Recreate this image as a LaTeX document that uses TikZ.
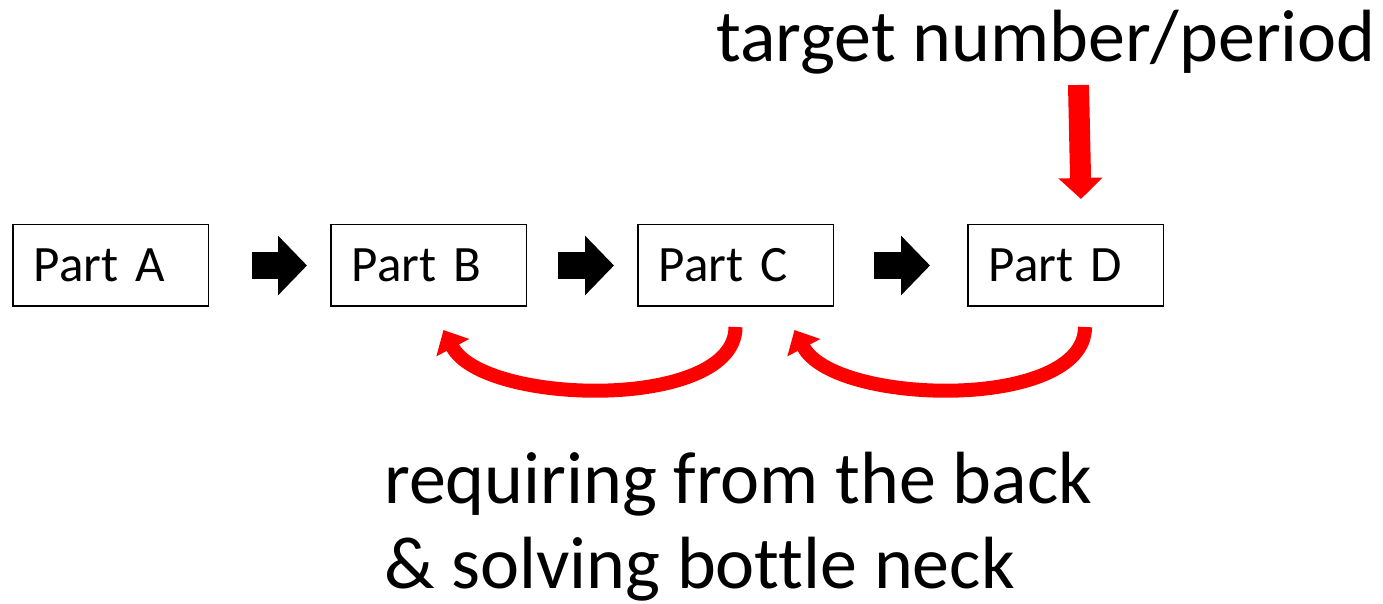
\documentclass[tikz,border=0pt]{standalone}
\usepackage{fontspec}
\setmainfont{Carlito}[Ligatures=NoCommon]
\usetikzlibrary{positioning,arrows.meta}
\tikzset{
    part/.style = {
       shape=rectangle,
       draw, line width = 1.5pt,
       align=left,
       text width = 153.5pt,
       inner xsep = 21pt,
       minimum height = 81.5pt,
       font = \fontsize{51}{60}\selectfont
    },
    flow/.style = {
       line width = 27pt,
       -{Triangle[width=58pt,length=29pt]}
    },
    pull/.style = {
       red, line width = 14pt,
       -{Triangle[width=36pt,length=20pt]}
    },
    demand/.style = {
       red, line width = 21pt,
       -{Triangle[width=43pt,length=21pt]}
    },
    bigtext/.style = {
       inner sep = 0pt,
       align=left,
       font = \fontsize{74}{85}\selectfont
    }
}

\begin{document}
\begin{tikzpicture}[x=1pt,y=1pt]
   \useasboundingbox (0,0) rectangle (1383,603);
   \node[part] (PartA) at (110.5,337.5) {Part A};
   \node[part] (PartB) [right = 121pt of PartA] {Part B};
   \node[part] (PartC) [right = 110pt of PartB] {Part C};
   \node[part] (PartD) [right = 133pt of PartC] {Part D};
   \node[bigtext, anchor=base west] (Target) at (716,541) {target number/period};
   \node[bigtext, anchor=base west] (Back) at (384,15) {requiring from the back\\\& solving bottle neck};
   \coordinate (Feed) at (1078.5,518);
%  forward flow
   \draw[flow, shorten <=43pt, shorten >=23pt] (PartA) -- (PartB);
   \draw[flow, shorten <=31pt, shorten >=23pt] (PartB) -- (PartC);
   \draw[flow, shorten <=40pt, shorten >=37pt] (PartC) -- (PartD);
   \draw[demand] (Feed) -- ([xshift=15.5pt,yshift=25pt]PartD.north);
%  pulled back from the end
   \draw[pull] ([yshift=-20pt]PartC.south) .. controls +(0,-84) and +(40,-76) .. ([xshift=15pt,yshift=-23pt]PartB.south);
   \draw[pull] ([xshift=19.5pt,yshift=-20pt]PartD.south) .. controls +(0,-84) and +(40,-76) .. ([xshift=59pt,yshift=-23pt]PartC.south);
\end{tikzpicture}
\end{document}
